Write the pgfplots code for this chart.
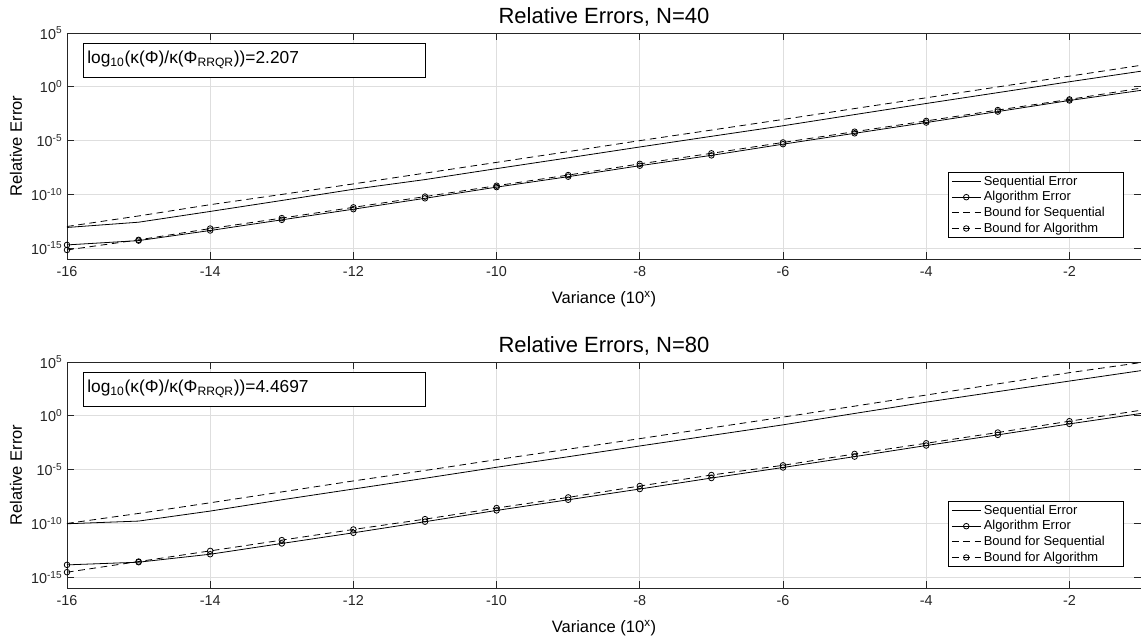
\documentclass[border=0pt]{standalone}
\usepackage{fontspec}
\setmainfont{Liberation Sans}
\usepackage{pgfplots}
\pgfplotsset{compat=1.18}
\definecolor{axgray}{rgb}{0.15,0.15,0.15}
\definecolor{gridgray}{rgb}{0.87,0.87,0.87}
\pgfplotsset{
  every axis/.append style={
    width=805.5pt, height=169.5pt, scale only axis,
    xmin=-16, xmax=-1, ymin=1e-16, ymax=1e5,
    xtick={-16,-14,-12,-10,-8,-6,-4,-2},
    xticklabels={-16,-14,-12,-10,-8,-6,-4,-2},
    ytick={1e-15,1e-10,1e-5,1,1e5},
    yticklabels={10\textsuperscript{-15},10\textsuperscript{-10},10\textsuperscript{-5},10\textsuperscript{0},10\textsuperscript{5}},
    grid=major, major grid style={gridgray, line width=0.5pt},
    tick align=inside, major tick length=5pt,
    axis line style={axgray, line width=0.5pt},
    tick style={axgray, line width=0.5pt},
    ticklabel style={font=\fontsize{10.8}{12}\selectfont, text=axgray},
    xticklabel style={yshift=-2pt},
    xlabel={Variance (10\textsuperscript{x})},
    ylabel={Relative Error},
    label style={font=\fontsize{12.4}{14}\selectfont},
    ylabel style={at={(axis description cs:-0.0419,0.5)}, anchor=base},
    xlabel style={at={(axis description cs:0.5,-0.1947)}, anchor=base},
    title style={at={(axis description cs:0.5,1.0066)}, anchor=base, font=\fontsize{16.5}{18}\selectfont},
    legend style={at={(0.984,0.093)}, anchor=south east, draw=black, line width=0.5pt,
      fill=white, font=\fontsize{9.72}{11}\selectfont, inner xsep=2pt, inner ysep=1pt,
      nodes={inner ysep=1.6pt, inner xsep=2pt}},
    legend cell align=left,
    legend image code/.code={\draw[mark indices={2}] plot coordinates {(0cm,0cm) (0.38cm,0cm) (0.76cm,0cm)};},
  },
  every axis plot/.append style={black, line width=0.6pt, mark size=2.1pt},
}
\tikzset{
  seqst/.style={solid},
  algst/.style={solid, mark=o, mark options={solid}},
  bseqst/.style={dash pattern=on 5pt off 3.5pt},
  balgst/.style={dash pattern=on 5pt off 3.5pt, mark=o, mark options={solid}},
  boxst/.style={draw=black, fill=white, line width=0.5pt, anchor=north west, text width=250.5pt, inner xsep=3pt, minimum height=25.5pt, align=left, font=\fontsize{13}{15}\selectfont},
}
\begin{document}
\begin{tikzpicture}
\useasboundingbox (-50.25pt,-283.5pt) rectangle (805.5pt,194.25pt);
\begin{axis}[ymode=log, title={Relative Errors, N=40}]
\addplot[seqst, no marks] coordinates {(-16,8.51e-14) (-15,2.63e-13) (-14,2.63e-12) (-13,2.75e-11) (-12,3.02e-10) (-11,2.40e-9) (-10,2.51e-8) (-9,2.51e-7) (-8,2.57e-6) (-7,2.51e-5) (-6,2.40e-4) (-5,2.63e-3) (-4,2.82e-2) (-3,2.88e-1) (-2,2.95) (-1,28.2) (0,282)};
\addlegendentry{Sequential Error}
\addplot[algst, mark indices={1,2,3,4,5,6,7,8,9,10,11,12,13,14,15}] coordinates {(-16,2.04e-15) (-15,5.13e-15) (-14,4.47e-14) (-13,4.37e-13) (-12,4.27e-12) (-11,4.37e-11) (-10,4.79e-10) (-9,4.47e-9) (-8,4.68e-8) (-7,4.27e-7) (-6,4.68e-6) (-5,4.79e-5) (-4,4.79e-4) (-3,5.01e-3) (-2,5.37e-2) (-1,0.468) (0,4.68)};
\addlegendentry{Algorithm Error}
\addplot[bseqst, no marks] coordinates {(-16,1.05e-13) (-15,1.0e-12) (-14,1.12e-11) (-13,1.0e-10) (-12,9.55e-10) (-11,9.55e-9) (-10,9.55e-8) (-9,9.55e-7) (-8,1.0e-5) (-7,9.55e-5) (-6,9.33e-4) (-5,9.55e-3) (-4,9.55e-2) (-3,0.977) (-2,9.77) (-1,100) (0,1000)};
\addlegendentry{Bound for Sequential\hspace*{10pt}}
\addplot[balgst, mark indices={1,2,3,4,5,6,7,8,9,10,11,12,13,14,15}] coordinates {(-16,6.92e-16) (-15,6.03e-15) (-14,6.76e-14) (-13,6.31e-13) (-12,6.31e-12) (-11,6.31e-11) (-10,6.46e-10) (-9,6.31e-9) (-8,6.92e-8) (-7,6.61e-7) (-6,6.76e-6) (-5,6.76e-5) (-4,6.76e-4) (-3,6.92e-3) (-2,6.76e-2) (-1,0.759) (0,7.08)};
\addlegendentry{Bound for Algorithm}
\node[boxst] at (rel axis cs:0.0149,0.956) {log\textsubscript{10}(κ(Φ)/κ(Φ\textsubscript{RRQR}))=2.207};
\end{axis}
\begin{axis}[ymode=log, at={(0,-246.75pt)}, title={Relative Errors, N=80}]
\addplot[seqst, no marks] coordinates {(-16,9.33e-11) (-15,1.66e-10) (-14,1.41e-9) (-13,1.58e-8) (-12,1.58e-7) (-11,1.58e-6) (-10,1.66e-5) (-9,1.58e-4) (-8,1.58e-3) (-7,1.51e-2) (-6,0.145) (-5,1.66) (-4,18.6) (-3,178) (-2,1698) (-1,15849) (0,158489)};
\addlegendentry{Sequential Error}
\addplot[algst, mark indices={1,2,3,4,5,6,7,8,9,10,11,12,13,14,15}] coordinates {(-16,1.41e-14) (-15,2.51e-14) (-14,1.38e-13) (-13,1.38e-12) (-12,1.35e-11) (-11,1.45e-10) (-10,1.62e-9) (-9,1.58e-8) (-8,1.58e-7) (-7,1.66e-6) (-6,1.58e-5) (-5,1.62e-4) (-4,1.74e-3) (-3,1.70e-2) (-2,0.178) (-1,1.66) (0,15.8)};
\addlegendentry{Algorithm Error}
\addplot[bseqst, no marks] coordinates {(-16,1.0e-10) (-15,8.51e-10) (-14,8.32e-9) (-13,8.51e-8) (-12,8.91e-7) (-11,8.32e-6) (-10,8.51e-5) (-9,7.94e-4) (-8,7.59e-3) (-7,7.59e-2) (-6,0.759) (-5,7.94) (-4,85.1) (-3,933) (-2,10233) (-1,89125) (0,891251)};
\addlegendentry{Bound for Sequential\hspace*{10pt}}
\addplot[balgst, mark indices={1,2,3,4,5,6,7,8,9,10,11,12,13,14,15}] coordinates {(-16,2.95e-15) (-15,2.88e-14) (-14,2.82e-13) (-13,2.82e-12) (-12,2.75e-11) (-11,2.51e-10) (-10,2.69e-9) (-9,2.63e-8) (-8,3.02e-7) (-7,3.16e-6) (-6,2.51e-5) (-5,2.88e-4) (-4,2.82e-3) (-3,2.82e-2) (-2,0.316) (-1,3.31) (0,33.1)};
\addlegendentry{Bound for Algorithm}
\node[boxst] at (rel axis cs:0.0149,0.956) {log\textsubscript{10}(κ(Φ)/κ(Φ\textsubscript{RRQR}))=4.4697};
\end{axis}
\end{tikzpicture}
\end{document}
